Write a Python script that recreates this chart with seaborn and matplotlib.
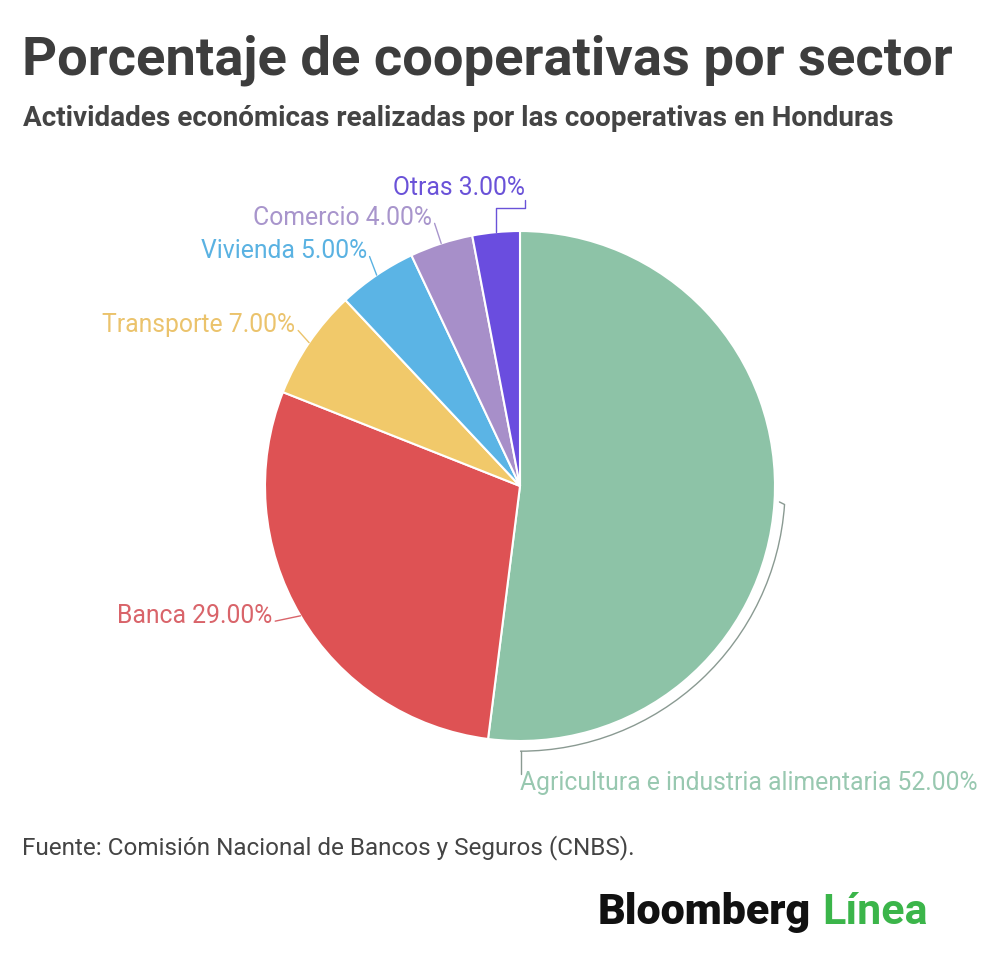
import numpy as np
import matplotlib
matplotlib.use("Agg")
from matplotlib import pyplot as plt
from matplotlib.patches import Arc
import seaborn as sns

sectors = ["Agricultura e industria alimentaria", "Banca", "Transporte",
           "Vivienda", "Comercio", "Otras"]
shares = [52.0, 29.0, 7.0, 5.0, 4.0, 3.0]
colors = ["#8dc3a7", "#de5254", "#f1c96a", "#5bb4e5", "#a78fc9", "#6a4ddf"]
text_colors = ["#98c8b0", "#d9646a", "#ebc36c", "#5ab2e2", "#a895cc", "#6a52d8"]

sns.set_theme(style="white")
plt.rcParams["font.family"] = ["Roboto", "DejaVu Sans"]

fig = plt.figure(figsize=(10, 9.69), dpi=100)
ax = fig.add_axes([0.265, 0.2353, 0.51, 0.5263])
wedges, _ = ax.pie(shares, colors=sns.color_palette(colors), startangle=90,
                   counterclock=False, radius=1,
                   wedgeprops=dict(edgecolor="white", linewidth=1.5))
ax.set_xlim(-1, 1)
ax.set_ylim(-1, 1)
ax.set_aspect("equal")
ax.axis("off")

# label anchor points (data units, radius = 1)
label_pos = {
    "Banca": (-0.97, -0.51),
    "Transporte": (-0.88, 0.63),
    "Vivienda": (-0.60, 0.92),
    "Comercio": (-0.345, 1.05),
    "Otras": (0.02, 1.17),
}

for w, name, val, tc in zip(wedges, sectors, shares, text_colors):
    txt = f"{name} {val:.2f}%"
    if name in label_pos:
        lx, ly = label_pos[name]
        mid = np.deg2rad((w.theta1 + w.theta2) / 2)
        ex, ey = np.cos(mid), np.sin(mid)
        ax.text(lx, ly, txt, ha="right", va="center", fontsize=17.8,
                color=tc, clip_on=False)
        if name == "Otras":
            ax.plot([ex, ex, lx, lx], [ey, 1.09, 1.09, 1.12],
                    color=tc, lw=1, clip_on=False)
        else:
            ax.plot([ex, lx + 0.01], [ey, ly - 0.02], color=tc, lw=1,
                    clip_on=False)
    else:
        # bracket around the big slice
        a1 = -90
        a2 = -4
        r = 1.04
        ax.add_patch(Arc((0, 0), 2 * r, 2 * r, theta1=a1, theta2=a2,
                         color="#8a9a92", lw=1, clip_on=False))
        ax.plot([r * np.cos(np.deg2rad(a2)), r * np.cos(np.deg2rad(a2)) - 0.02],
                [r * np.sin(np.deg2rad(a2)), r * np.sin(np.deg2rad(a2)) + 0.01],
                color="#8a9a92", lw=1, clip_on=False)
        ax.plot([0.005, 0.005], [-r, -1.13], color="#8a9a92", lw=1,
                clip_on=False)
        ax.text(0.0, -1.165, txt, ha="left", va="center", fontsize=17.8,
                color=tc, clip_on=False)

fig.text(0.022, 0.938, "Porcentaje de cooperativas por sector", fontsize=39.2,
         fontweight="bold", color="#3d3d3d", va="center")
fig.text(0.023, 0.878, "Actividades económicas realizadas por las cooperativas en Honduras",
         fontsize=20.1, fontweight="bold", color="#444444", va="center")
fig.text(0.022, 0.125, "Fuente: Comisión Nacional de Bancos y Seguros (CNBS).",
         fontsize=17.5, color="#444444", va="center")
fig.text(0.598, 0.058, "Bloomberg", fontsize=31, fontweight="black",
         color="#111111", va="center")
fig.text(0.822, 0.058, "Línea", fontsize=31, fontweight="bold",
         color="#3bb54a", va="center")

fig.savefig("out.png", dpi=100, facecolor="white")
